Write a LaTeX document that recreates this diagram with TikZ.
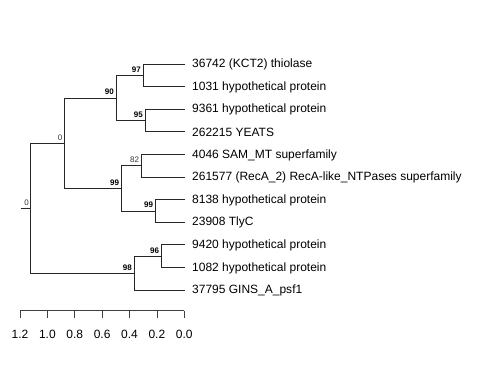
\documentclass[tikz,border=0pt]{standalone}
\usepackage{fontspec}
\setmainfont{Liberation Sans}
\begin{document}
\begin{tikzpicture}[x=1bp,y=-1bp,
  branch/.style={draw=black!85,line width=0.8bp},
  tiplab/.style={anchor=west,inner sep=0pt,font=\fontsize{12bp}{14bp}\selectfont},
  suppbold/.style={anchor=base east,inner sep=0pt,font=\fontsize{8bp}{9bp}\selectfont\bfseries},
  supplight/.style={anchor=base east,inner sep=0pt,text=black!80,font=\fontsize{8bp}{9bp}\selectfont},
  ticklab/.style={anchor=base,inner sep=0pt,font=\fontsize{12bp}{14bp}\selectfont}]
\useasboundingbox (0,0) rectangle (480,384);
% leaves
\def\lx{184.5}
\foreach \i/\y in {1/64,2/86.6,3/109.2,4/131.8,5/154.4,6/177,7/199.6,8/222.2,9/244.8,10/267.4,11/290}{
  \coordinate (L\i) at (\lx,\y);
}
% internal nodes
\coordinate (n97) at (143.3,75.3);
\coordinate (n95) at (145.3,120.5);
\coordinate (n90) at (116.3,97.9);
\coordinate (n82) at (141.7,165.7);
\coordinate (n99b) at (155.7,210.9);
\coordinate (n99a) at (121.7,188.3);
\coordinate (n0) at (64.3,143.1);
\coordinate (n96) at (161.7,256.1);
\coordinate (n98) at (134.3,273.05);
\coordinate (root) at (30.7,208.1);
\coordinate (rootstub) at (20.5,208.1);
% edges
\draw[branch] (rootstub) -- (root);
\draw[branch] (root) |- (n0);
\draw[branch] (root) |- (n98);
\draw[branch] (n0) |- (n90);
\draw[branch] (n0) |- (n99a);
\draw[branch] (n90) |- (n97);
\draw[branch] (n90) |- (n95);
\draw[branch] (n97) |- (L1);
\draw[branch] (n97) |- (L2);
\draw[branch] (n95) |- (L3);
\draw[branch] (n95) |- (L4);
\draw[branch] (n99a) |- (n82);
\draw[branch] (n99a) |- (n99b);
\draw[branch] (n82) |- (L5);
\draw[branch] (n82) |- (L6);
\draw[branch] (n99b) |- (L7);
\draw[branch] (n99b) |- (L8);
\draw[branch] (n98) |- (n96);
\draw[branch] (n98) |- (L11);
\draw[branch] (n96) |- (L9);
\draw[branch] (n96) |- (L10);
% tip labels
\node[tiplab] (t1) at (192,64.5) {36742 (KCT2) thiolase};
\node[tiplab] (t2) at (192,87.1) {1031 hypothetical protein};
\node[tiplab] (t3) at (192,109.7) {9361 hypothetical protein};
\node[tiplab] (t4) at (192,132.3) {262215 YEATS};
\node[tiplab] (t5) at (192,154.9) {4046 SAM\_MT superfamily};
\node[tiplab] (t6) at (192,177.5) {261577 (RecA\_2) RecA-like\_NTPases superfamily};
\node[tiplab] (t7) at (192,200.1) {8138 hypothetical protein};
\node[tiplab] (t8) at (192,222.7) {23908 TlyC};
\node[tiplab] (t9) at (192,245.3) {9420 hypothetical protein};
\node[tiplab] (t10) at (192,267.9) {1082 hypothetical protein};
\node[tiplab] (t11) at (192,290.5) {37795 GINS\_A\_psf1};
% support labels
\node[suppbold] (s97) at ([xshift=-2.4bp,yshift=3bp]n97) {97};
\node[suppbold] (s95) at ([xshift=-2.4bp,yshift=3bp]n95) {95};
\node[suppbold] (s90) at ([xshift=-2.4bp,yshift=3bp]n90) {90};
\node[supplight] (s0) at ([xshift=-1.8bp,yshift=3bp]n0) {0};
\node[supplight] (s82) at ([xshift=-2.4bp,yshift=3bp]n82) {82};
\node[suppbold] (s99a) at ([xshift=-2.4bp,yshift=3bp]n99a) {99};
\node[suppbold] (s99b) at ([xshift=-2.4bp,yshift=3bp]n99b) {99};
\node[suppbold] (s96) at ([xshift=-2.4bp,yshift=3bp]n96) {96};
\node[suppbold] (s98) at ([xshift=-2.4bp,yshift=3bp]n98) {98};
\node[supplight] (sroot) at ([xshift=-1.8bp,yshift=3bp]root) {0};
% axis
\coordinate (ax0) at (20,310.7);
\coordinate (ax1) at (184.3,310.7);
\draw[branch,draw=black!75] (ax0) -- (ax1);
\foreach \v [count=\k from 0] in {1.2,1.0,0.8,0.6,0.4,0.2,0.0}{
  \pgfmathsetmacro{\tx}{20+\k*27.383}
  \draw[branch,draw=black!75] (\tx,310.7) -- (\tx,318.3);
  \node[ticklab] (tk\k) at (\tx,338.3) {\v};
}
\end{tikzpicture}
\end{document}
